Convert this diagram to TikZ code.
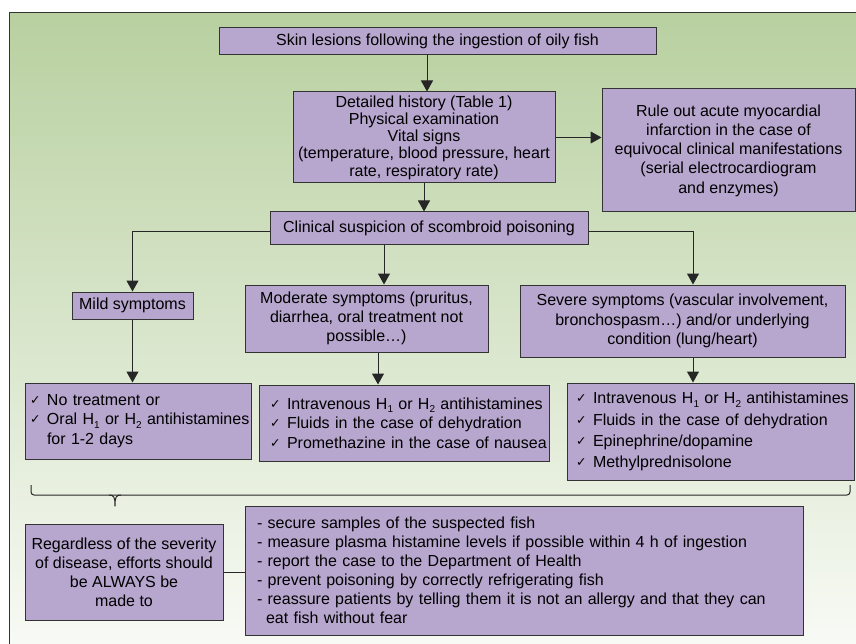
\documentclass[tikz,border=0pt]{standalone}
\usepackage{fontspec}
\setmainfont{Liberation Sans}
\newfontfamily\symfont{DejaVu Sans}
\usetikzlibrary{arrows.meta,calc}
\definecolor{boxfill}{RGB}{183,166,206}
\definecolor{bgtop}{RGB}{184,208,160}
\definecolor{bgbot}{RGB}{248,250,245}
\newcommand{\chk}{\makebox[17pt][l]{\raisebox{1pt}{\symfont\fontsize{12.5}{12.5}\selectfont ✓}}}
\newcommand{\Hs}[1]{H\raisebox{-3.5pt}{\fontsize{10}{10}\selectfont #1}}
\newcommand{\oneline}[1]{\mbox{#1}}
\begin{document}
\begin{tikzpicture}[x=1pt,y=-1pt,
 box/.style={draw=black!80, fill=boxfill, line width=1pt, inner sep=0pt, font=\fontsize{16}{19.3}\selectfont, align=center},
 lbox/.style={box, align=left},
 arr/.style={-{Triangle[width=12pt,length=11pt]}, line width=1pt, draw=black!85},
 con/.style={line width=1pt, draw=black!85}]
\useasboundingbox (0,0) rectangle (856,644);
\shade[top color=bgtop,bottom color=bgbot] (9,13) rectangle (856,644);
\draw[line width=1pt, black!80] (9,644) -- (9,13) -- (856,13);

\node[box, minimum width=437pt, minimum height=27pt] (top) at (437.5,41.5) {Skin lesions following the ingestion of oily fish};
\node[box, minimum width=262pt, minimum height=91pt, font=\fontsize{16}{17.2}\selectfont] (hist) at (424,137.5) {Detailed history (Table 1)\\Physical examination\\Vital signs\\(temperature, blood pressure, heart\\rate, respiratory rate)};
\node[box, minimum width=253pt, minimum height=123pt] (rule) at (728.5,150.5) {Rule out acute myocardial\\infarction in the case of\\equivocal clinical manifestations\\(serial electrocardiogram\\and enzymes)};
\node[box, minimum width=318pt, minimum height=33pt] (clin) at (429,228.5) {Clinical suspicion of scombroid poisoning};
\node[box, minimum width=121pt, minimum height=27pt] (mild) at (132.5,305.5) {Mild symptoms};
\node[box, minimum width=243pt, minimum height=67pt] (mod) at (366.5,318.5) {Moderate symptoms (pruritus,\\diarrhea, oral treatment not\\possible…)};
\node[box, minimum width=325pt, minimum height=72pt] (sev) at (682.5,321) {Severe symptoms (vascular involvement,\\bronchospasm…) and/or underlying\\condition (lung/heart)};

\node[lbox, minimum width=226pt, minimum height=76pt, text width=216pt] (r1) at (138,421) {\oneline{\chk No treatment or}\\\oneline{\chk Oral \Hs{1} or \Hs{2} antihistamines}\\\oneline{\hspace*{17pt}for 1-2 days}};
\node[lbox, minimum width=290pt, minimum height=76pt, text width=268pt] (r2) at (404,423) {\oneline{\chk Intravenous \Hs{1} or \Hs{2} antihistamines}\\\oneline{\chk Fluids in the case of dehydration}\\\oneline{\chk Promethazine in the case of nausea}};
\node[lbox, minimum width=287pt, minimum height=97pt, text width=269pt, font=\fontsize{16}{21.2}\selectfont] (r3) at (710.5,431.5) {\oneline{\chk Intravenous \Hs{1} or \Hs{2} antihistamines}\\\oneline{\chk Fluids in the case of dehydration}\\\oneline{\chk Epinephrine/dopamine}\\\oneline{\chk Methylprednisolone}};

\node[box, minimum width=198pt, minimum height=96pt, font=\fontsize{16}{18.9}\selectfont] (reg) at (124,572) {Regardless of the severity\\of disease, efforts should\\be ALWAYS be\\made to};
\node[lbox, minimum width=558pt, minimum height=129pt, text width=534pt, font=\fontsize{16}{19.1}\selectfont] (bul) at (524,570.5) {- secure samples of the suspected fish\\- measure plasma histamine levels if possible within 4 h of ingestion\\- report the case to the Department of Health\\- prevent poisoning by correctly refrigerating fish\\- reassure patients by telling them it is not an allergy and that they can\\\hspace*{9pt}eat fish without fear};

\coordinate (c1) at (427,0);
\coordinate (c2) at (384,0);
\coordinate (c3) at (693,0);
\coordinate (c4) at (378,0);
\draw[arr] (top.south -| c1) -- (hist.north -| c1);
\draw[arr] (hist.east) -- (rule.west |- hist.east);
\draw[arr] (hist.south) -- (clin.north -| hist.south);
\draw[arr] ($(clin.west)+(0,3.5)$) -| (mild.north);
\draw[arr] (clin.south -| c2) -- (mod.north -| c2);
\draw[arr] ($(clin.east)+(0,3.5)$) -| (sev.north -| c3);
\draw[arr] (mild.south) -- (r1.north -| mild.south);
\draw[arr] (mod.south -| c4) -- (r2.north -| c4);
\draw[arr] (sev.south -| c3) -- (r3.north -| c3);
\draw[con] (reg.east) -- (bul.west |- reg.east);

\coordinate (bl) at (31,485);
\coordinate (br) at (850,485);
\coordinate (bt) at (115,506);
\draw[con, rounded corners=3pt] (bl) -- (31,495) -- (850,495) -- (br);
\draw[con, line join=round] (109,495) .. controls (114,495) and (115,497) .. (bt) .. controls (115,497) and (116,495) .. (121,495);
\end{tikzpicture}
\end{document}
